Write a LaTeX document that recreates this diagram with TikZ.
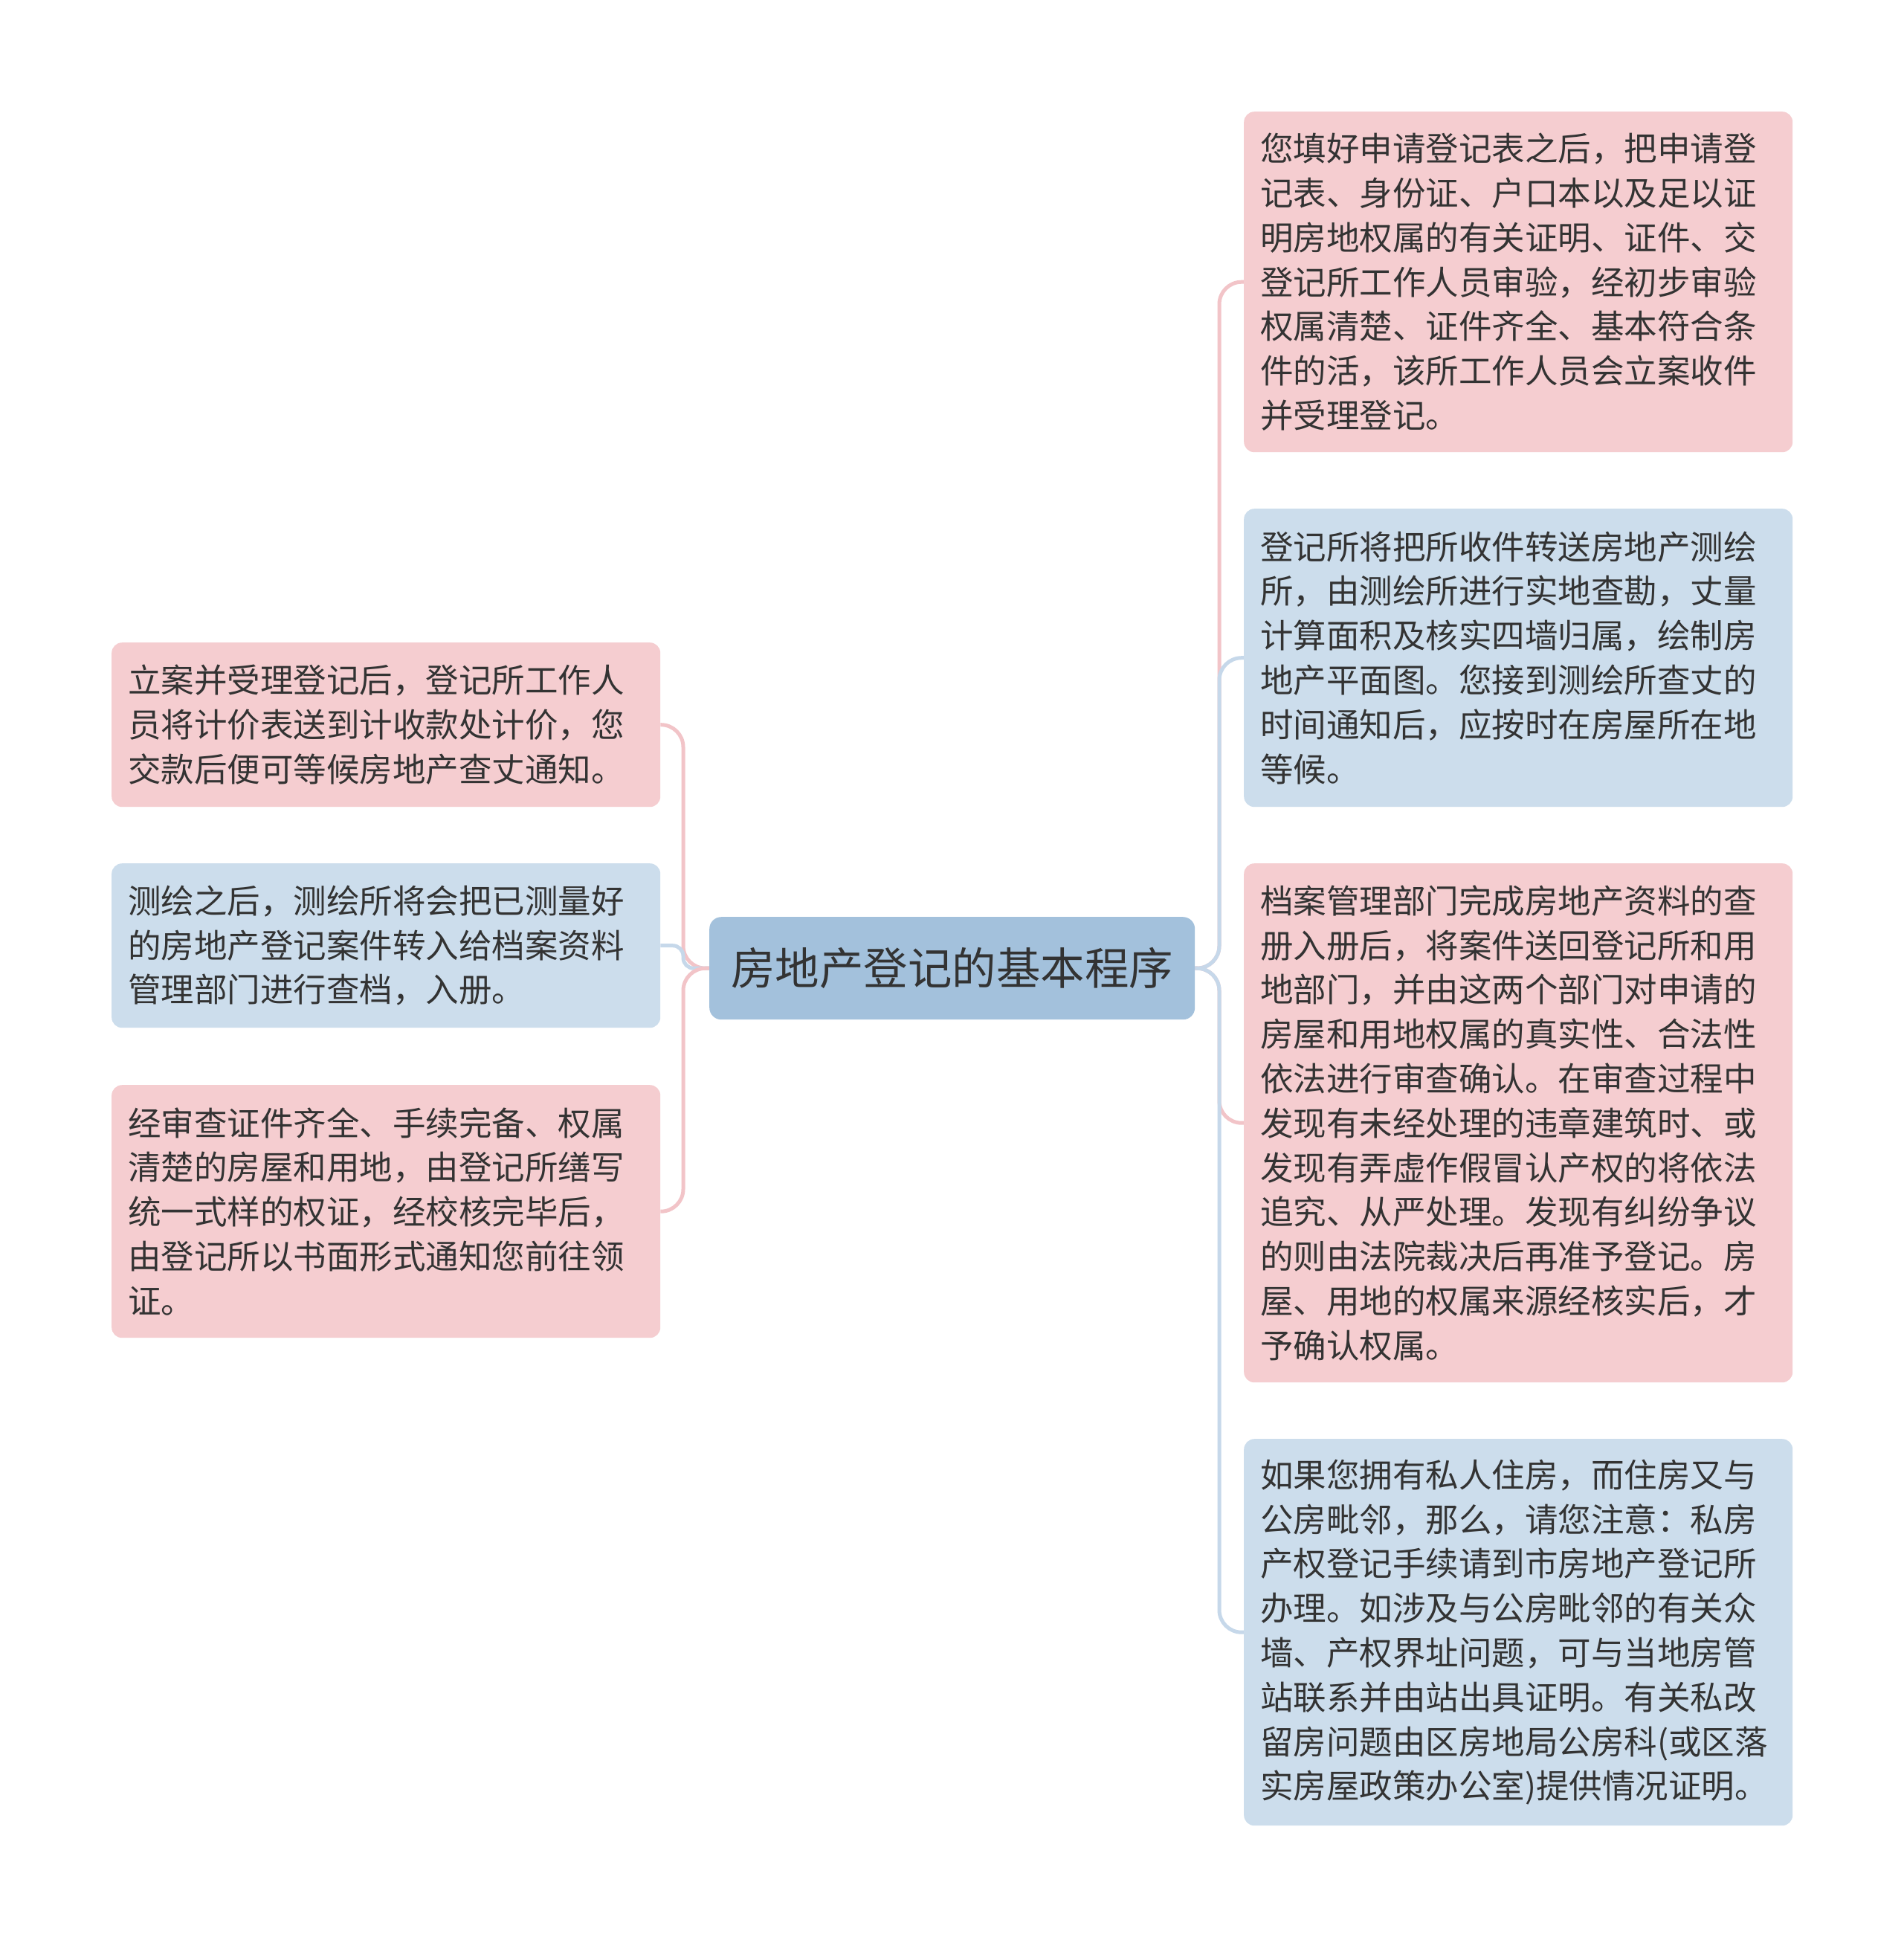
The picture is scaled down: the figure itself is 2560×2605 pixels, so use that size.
\documentclass[tikz,border=0pt]{standalone}
\usepackage{fontspec}
\newfontfamily\cjk{Noto Sans CJK SC}
\definecolor{pinkfill}{HTML}{F5CDD0}
\definecolor{bluefill}{HTML}{CCDDEC}
\definecolor{centerfill}{HTML}{A3C1DC}
\definecolor{pinkline}{HTML}{F2C4C8}
\definecolor{blueline}{HTML}{C6D8EA}
\definecolor{txt}{HTML}{333333}
\pgfdeclarelayer{bg}
\pgfsetlayers{bg,main}
\begin{document}
\begin{tikzpicture}[x=1pt,y=-1pt,
  leaf/.style={rectangle, rounded corners=14pt, text width=694pt, inner xsep=22pt, inner ysep=0pt,
    minimum width=738pt, align=left, anchor=north west, text=txt,
    font=\cjk\fontsize{44.5pt}{59.8pt}\selectfont},
  pinkleaf/.style={leaf, fill=pinkfill},
  blueleaf/.style={leaf, fill=bluefill},
  rootbox/.style={rectangle, rounded corners=16pt, fill=centerfill, text=txt, minimum width=653pt,
    minimum height=138pt, inner sep=0pt, anchor=north west, font=\cjk\fontsize{59.5pt}{70pt}\selectfont},
  pinkconn/.style={draw=pinkline, line width=5pt, rounded corners=30pt},
  blueconn/.style={draw=blueline, line width=5pt, rounded corners=30pt}
]
\useasboundingbox (0,0) rectangle (2560,2605);
\begin{pgfonlayer}{bg}
\fill[white] (0,0) rectangle (2560,2605);
\end{pgfonlayer}

\coordinate (sl) at (919,0);
\coordinate (sr) at (1640,0);

\node[rootbox] (c) at (954,1233) {房地产登记的基本程序};

\node[pinkleaf, minimum height=458pt] (r1) at (1673,150) {您填好申请登记表之后，把申请登\\记表、身份证、户口本以及足以证\\明房地权属的有关证明、证件、交\\登记所工作人员审验，经初步审验\\权属清楚、证件齐全、基本符合条\\件的活，该所工作人员会立案收件\\并受理登记。};

\node[blueleaf, minimum height=401pt] (r2) at (1673,684) {登记所将把所收件转送房地产测绘\\所，由测绘所进行实地查勘，丈量\\计算面积及核实四墙归属，绘制房\\地产平面图。您接到测绘所查丈的\\时间通知后，应按时在房屋所在地\\等候。};

\node[pinkleaf, minimum height=698pt] (r3) at (1673,1161) {档案管理部门完成房地产资料的查\\册入册后，将案件送回登记所和用\\地部门，并由这两个部门对申请的\\房屋和用地权属的真实性、合法性\\依法进行审查确认。在审查过程中\\发现有未经处理的违章建筑时、或\\发现有弄虚作假冒认产权的将依法\\追究、从严处理。发现有纠纷争议\\的则由法院裁决后再准予登记。房\\屋、用地的权属来源经核实后，才\\予确认权属。};

\node[blueleaf, minimum height=520pt] (r4) at (1673,1935) {如果您拥有私人住房，而住房又与\\公房毗邻，那么，请您注意：私房\\产权登记手续请到市房地产登记所\\办理。如涉及与公房毗邻的有关众\\墙、产权界址问题，可与当地房管\\站联系并由站出具证明。有关私改\\留房问题由区房地局公房科(或区落\\实房屋政策办公室)提供情况证明。};

\node[pinkleaf, minimum height=221pt] (l1) at (150,864) {立案并受理登记后，登记所工作人\\员将计价表送到计收款处计价，您\\交款后便可等候房地产查丈通知。};

\node[blueleaf, minimum height=221pt] (l2) at (150,1161) {测绘之后，测绘所将会把已测量好\\的房地产登记案件转入给档案资料\\管理部门进行查档，入册。};

\node[pinkleaf, minimum height=340pt] (l3) at (150,1459) {经审查证件齐全、手续完备、权属\\清楚的房屋和用地，由登记所缮写\\统一式样的权证，经校核完毕后，\\由登记所以书面形式通知您前往领\\证。};

\begin{pgfonlayer}{bg}
\draw[pinkconn] (c.west) -- (sl |- c.west) -- (sl |- l1.east) -- (l1.east);
\draw[blueconn, rounded corners=14pt] (c.west) -- (sl |- c.west) -- (sl |- l2.east) -- (l2.east);
\draw[pinkconn] (c.west) -- (sl |- c.west) -- (sl |- l3.east) -- (l3.east);

\draw[pinkconn] (c.east) -- (sr |- c.east) -- (sr |- r1.west) -- (r1.west);
\draw[blueconn] (c.east) -- (sr |- c.east) -- (sr |- r2.west) -- (r2.west);
\draw[pinkconn] (c.east) -- (sr |- c.east) -- (sr |- r3.west) -- (r3.west);
\draw[blueconn] (c.east) -- (sr |- c.east) -- (sr |- r4.west) -- (r4.west);
\end{pgfonlayer}
\end{tikzpicture}
\end{document}
